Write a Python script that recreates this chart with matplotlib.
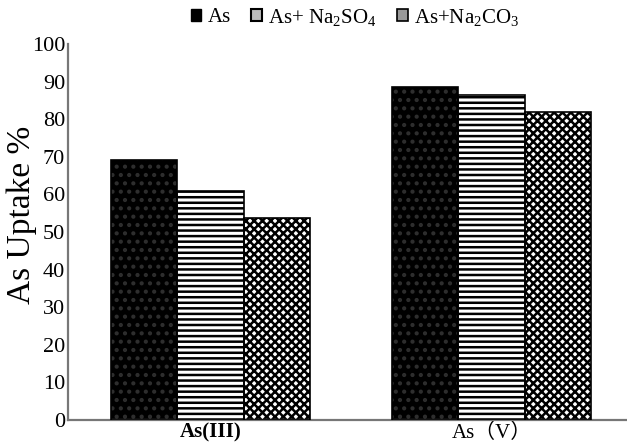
import matplotlib
matplotlib.use("Agg")
import matplotlib.pyplot as plt
from matplotlib.patches import Patch
import numpy as np

categories = ["As(III)", "As（V）"]
series_names = ["As", "As+ Na$_2$SO$_4$", "As+Na$_2$CO$_3$"]
val_as = [69.2, 88.5]
val_so4 = [61.0, 86.4]
val_co3 = [53.8, 82.0]
yticks = [0, 10, 20, 30, 40, 50, 60, 70, 80, 90, 100]

plt.rcParams['font.family'] = ['Liberation Serif', 'Noto Sans CJK SC', 'DejaVu Sans']
plt.rcParams['mathtext.fontset'] = 'custom'
plt.rcParams['mathtext.rm'] = 'Liberation Serif'
plt.rcParams['mathtext.it'] = 'Liberation Serif'
plt.rcParams['mathtext.default'] = 'regular'
plt.rcParams['hatch.linewidth'] = 1.8

fig = plt.figure(figsize=(6.27, 4.46), dpi=100)
ax = fig.add_axes([68/627, 1-420/446, (627-68)/627, (420-44)/446])

x = np.arange(len(categories))
w = 0.237
styles = [
    dict(facecolor='black', hatch_color='#2e2e2e', hatch='..'),
    dict(facecolor='white', hatch_color='black', hatch='---'),
    dict(facecolor='white', hatch_color='black', hatch='xxxx'),
]
data = [val_as, val_so4, val_co3]
for i, (vals, st) in enumerate(zip(data, styles)):
    pos = x + (i - 1) * w
    ax.bar(pos, vals, w, facecolor=st['facecolor'], edgecolor=st['hatch_color'],
           hatch=st['hatch'], linewidth=0, zorder=2)
    ax.bar(pos, vals, w, facecolor='none', edgecolor='black', linewidth=1.2, zorder=3)

ax.set_xlim(-0.507, 1.482)
ax.set_ylim(0, 100)
ax.set_yticks(yticks)
ax.set_yticklabels([str(t) for t in yticks], fontsize=16)
ax.tick_params(axis='y', length=0, pad=2)
ax.set_xticks(x)
ax.set_xticklabels(categories, fontsize=15)
ax.get_xticklabels()[0].set_fontweight('bold')
ax.tick_params(axis='x', length=0, pad=2)
for s in ['top', 'right']:
    ax.spines[s].set_visible(False)
ax.spines['left'].set_color('#777777')
ax.spines['left'].set_linewidth(1.6)
ax.spines['bottom'].set_color('#777777')
ax.spines['bottom'].set_linewidth(1.6)

fig.text(22/627, 1-215/446, "As Uptake %", rotation=90, fontsize=24,
         ha='center', va='center')

handles = [
    Patch(facecolor='black', edgecolor='black'),
    Patch(facecolor='#bbbbbb', edgecolor='black', linewidth=1.5),
    Patch(facecolor='#999999', edgecolor='black', linewidth=1.2),
]
leg = fig.legend(handles, series_names, loc='center', bbox_to_anchor=(355/627, 1-17/446),
                 ncol=3, frameon=False, fontsize=15, handlelength=0.5, handleheight=0.5,
                 handletextpad=0.3, columnspacing=1.0)
fig.savefig("out.png", dpi=100)
